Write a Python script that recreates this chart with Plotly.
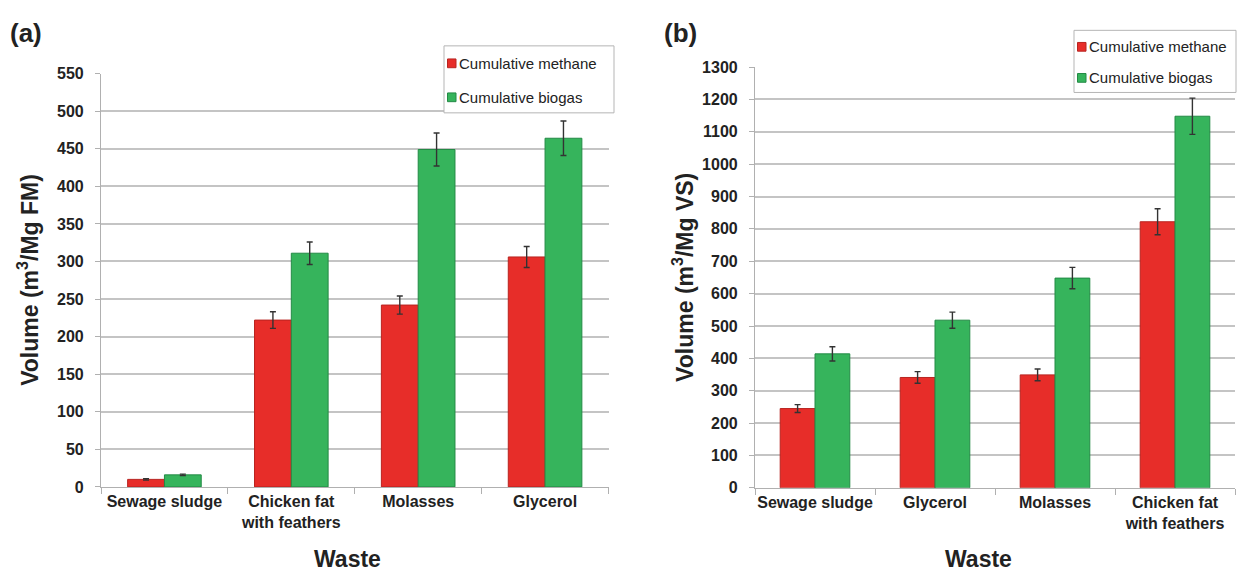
import plotly.graph_objects as go

# Panel (a): volumes per fresh matter
waste_a = ["Sewage sludge", "Chicken fat<br>with feathers", "Molasses", "Glycerol"]
methane_a = [10, 222, 242, 306]
methane_a_err = [1, 11, 12, 14]
biogas_a = [16, 311, 449, 464]
biogas_a_err = [1, 15, 22, 23]

# Panel (b): volumes per volatile solids
waste_b = ["Sewage sludge", "Glycerol", "Molasses", "Chicken fat<br>with feathers"]
methane_b = [245, 341, 349, 822]
methane_b_err = [12, 18, 18, 40]
biogas_b = [414, 518, 648, 1148]
biogas_b_err = [22, 25, 33, 56]

series_names = ["Cumulative methane", "Cumulative biogas"]

RED = "#e72d29"
RED_EDGE = "#b82420"
GREEN = "#36b45c"
GREEN_EDGE = "#238a45"
FONT = "Liberation Sans Narrow, Arial Narrow, Liberation Sans, Arial, sans-serif"

W, H = 1245, 582


def px(x):
    return x / W


def py(y):
    return (H - y) / H


fig = go.Figure()


def add_pair(cats, meth, meth_err, bio, bio_err, xa, ya):
    err_style = dict(type="data", thickness=1.4, width=3, color="#333333")
    fig.add_trace(go.Bar(
        x=cats, y=meth, name=series_names[0],
        marker=dict(color=RED, line=dict(color=RED_EDGE, width=1)),
        error_y=dict(array=meth_err, **err_style),
        xaxis=xa, yaxis=ya, offsetgroup="m", showlegend=False,
    ))
    fig.add_trace(go.Bar(
        x=cats, y=bio, name=series_names[1],
        marker=dict(color=GREEN, line=dict(color=GREEN_EDGE, width=1)),
        error_y=dict(array=bio_err, **err_style),
        xaxis=xa, yaxis=ya, offsetgroup="b", showlegend=False,
    ))


add_pair(waste_a, methane_a, methane_a_err, biogas_a, biogas_a_err, "x", "y")
add_pair(waste_b, methane_b, methane_b_err, biogas_b, biogas_b_err, "x2", "y2")

tick_font = dict(family=FONT, size=16, color="#222222", weight="bold")
grid = "#c4c4c4"

xcommon = dict(
    type="category", tickson="boundaries", ticks="outside", ticklen=6,
    tickcolor="#b0b0b0", showline=True, linecolor="#b0b0b0", linewidth=1.2,
    showgrid=False, tickfont=tick_font, tickangle=0, fixedrange=True,
)
ycommon = dict(
    showline=True, linecolor="#b0b0b0", linewidth=1.2, ticks="outside",
    ticklen=5, tickcolor="#b0b0b0", ticklabelstandoff=8,
    showgrid=True, gridcolor=grid, gridwidth=1.5, zeroline=False,
    tickfont=tick_font, fixedrange=True,
)

fig.update_layout(
    width=W, height=H,
    margin=dict(l=0, r=0, t=0, b=0),
    paper_bgcolor="white", plot_bgcolor="white",
    barmode="group", bargap=0.42, bargroupgap=0.0,
    showlegend=False,
    xaxis=dict(domain=[px(101), px(608.5)], anchor="y", **xcommon),
    yaxis=dict(domain=[py(493.3), py(67.6)], range=[0, 550], dtick=50,
               anchor="x", **ycommon),
    xaxis2=dict(domain=[px(755), px(1235)], anchor="y2", **xcommon),
    yaxis2=dict(domain=[py(494.3), py(60.8)], range=[0, 1300], dtick=100,
                anchor="x2", **ycommon),
)


# Boxed key for each panel: frame, colour swatches and series names
def add_key(x0, y0, x1, y1, rows):
    fig.add_shape(type="rect", xref="paper", yref="paper",
                  x0=px(x0), x1=px(x1), y0=py(y1), y1=py(y0),
                  line=dict(color="#b5b5b5", width=1), fillcolor="white",
                  layer="above")
    for yc, name, fill, edge in rows:
        fig.add_shape(type="rect", xref="paper", yref="paper",
                      x0=px(x0 + 3.5), x1=px(x0 + 12), y0=py(yc + 4.5), y1=py(yc - 4.5),
                      line=dict(color=edge, width=1), fillcolor=fill, layer="above")
        fig.add_annotation(xref="paper", yref="paper", x=px(x0 + 13), y=py(yc),
                           xanchor="left", yanchor="middle", showarrow=False,
                           text=name, font=dict(family=FONT, size=15, color="#222222"))


add_key(444, 39, 614, 108, [(57, series_names[0], RED, RED_EDGE),
                             (92, series_names[1], GREEN, GREEN_EDGE)])
add_key(1074, 23, 1236, 87, [(40, series_names[0], RED, RED_EDGE),
                              (72, series_names[1], GREEN, GREEN_EDGE)])

title_font = dict(family=FONT, size=23, color="#222222", weight="bold")
annos = [
    dict(text="(a)", x=px(8), y=py(8), xanchor="left", yanchor="top",
         font=dict(family=FONT, size=26, color="#222222", weight="bold")),
    dict(text="(b)", x=px(662), y=py(8), xanchor="left", yanchor="top",
         font=dict(family=FONT, size=26, color="#222222", weight="bold")),
    dict(text="Volume (m<sup>3</sup>/Mg FM)", x=px(28), y=py(280), textangle=-90,
         xanchor="center", yanchor="middle", font=title_font),
    dict(text="Volume (m<sup>3</sup>/Mg VS)", x=px(683), y=py(278), textangle=-90,
         xanchor="center", yanchor="middle", font=title_font),
    dict(text="Waste", x=px(347), y=py(568), xanchor="center", yanchor="middle",
         font=title_font),
    dict(text="Waste", x=px(978), y=py(568), xanchor="center", yanchor="middle",
         font=title_font),
]
for a in annos:
    fig.add_annotation(xref="paper", yref="paper", showarrow=False, **a)

fig.write_html("out.html")
